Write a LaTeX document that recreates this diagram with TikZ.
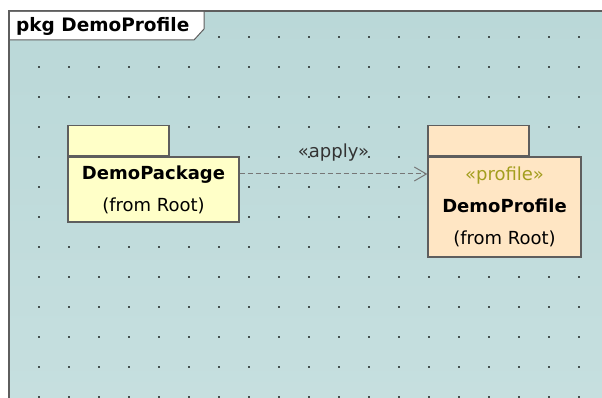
\documentclass[tikz,border=0pt]{standalone}
\usepackage{fontspec}
\setmainfont{DejaVu Sans}
\usepackage{xcolor}
\usetikzlibrary{arrows.meta,
positioning,
calc}

\definecolor{gridbg}{HTML}{BAD8D8}
\definecolor{gridbgb}{HTML}{C6DFDF}
\definecolor{griddot}{HTML}{45504F}
\definecolor{framegray}{HTML}{5E5E5E}
\definecolor{pkgfill}{HTML}{FFFFC8}
\definecolor{proffill}{HTML}{FFE6C4}
\definecolor{stereo}{HTML}{A39E1E}

\begin{document}
\begin{tikzpicture}[
				x=1pt, y=-1pt,
				pkgbody/.style={
					draw=framegray,
					line width=1.4pt,
					minimum width=171pt,
					minimum height=65pt,
					align=center,
					inner sep=0pt,
					font=\fontsize{18}{32}\selectfont
				},
				pkgtab/.style={
					draw=framegray,
					line width=1.4pt,
					minimum width=101pt,
					minimum height=30pt,
					inner sep=0pt
				},
				dep/.style={
					draw=framegray!85,
					line width=1pt,
					dash pattern=on 5pt off 3pt,
					-{Straight Barb[length=12pt,width=14pt,line width=1pt]}
				}
				]
				\useasboundingbox (0,0) rectangle (602,398);
				% diagram area
				\shade[top color=gridbg, bottom color=gridbgb] (9,11) rectangle (602,398);
				\foreach \gx in {39,69,...,579}
					\foreach \gy in {37,67,...,397}
						\fill[griddot] (\gx-1.2,\gy-1.2) rectangle (\gx+1.2,\gy+1.2);
				\draw[framegray, line width=2pt] (9,400) -- (9,11) -- (604,11);
				
				% frame title
				\fill[white] (10,12) -- (204,12) -- (204,29) -- (194,40) -- (10,40) -- cycle;
				\draw[framegray, line width=1pt] (204,11) -- (204,29) -- (194,40) -- (9,40);
				\node[anchor=west, font=\fontsize{18.5}{20}\selectfont\bfseries, inner sep=0pt] (title) at (16,26) {pkg DemoProfile};
				
				% packages
				\node[pkgbody, fill=pkgfill] (demopkg) at (153.5,189.5) {\textbf{DemoPackage}\\(from Root)};
				\node[pkgtab, fill=pkgfill, anchor=south west] (demopkgtab) at (demopkg.north west) {};
				
				\node[pkgbody, fill=proffill, minimum width=153pt, minimum height=100pt] (demoprof) at (504.5,207) {\textcolor{stereo}{«profile»}\\\textbf{DemoProfile}\\(from Root)};
				\node[pkgtab, fill=proffill, anchor=south west] (demoproftab) at (demoprof.north west) {};
				
				% apply
				\draw[dep] (demopkg.east |- 0,174) -- (demoprof.west |- 0,174) node[midway, above=9pt, font=\fontsize{18}{20}\selectfont, text=black!80] (apply) {«apply»};
			\end{tikzpicture}
\end{document}
